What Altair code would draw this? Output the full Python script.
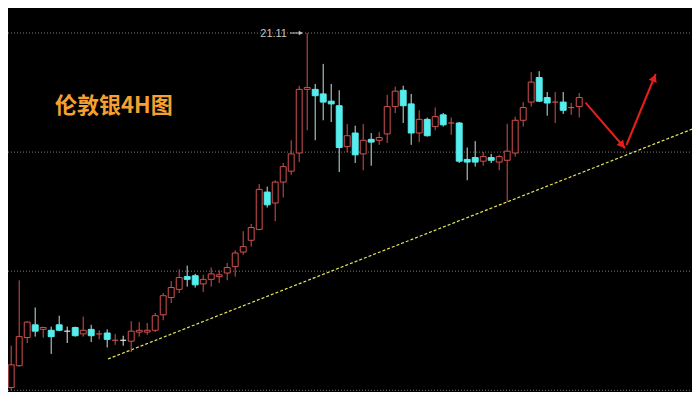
import altair as alt
import pandas as pd

# ---- candle data (London silver, 4H) ----
opens = [17.21, 17.45, 17.76, 17.90, 17.85, 17.84, 17.90, 17.83, 17.87, 17.80,
         17.85, 17.80, 17.81, 17.73, 17.73, 17.72, 17.82, 17.82, 17.84, 18.01,
         18.20, 18.29, 18.43, 18.44, 18.35, 18.40, 18.43, 18.47, 18.54, 18.70,
         18.83, 18.95, 19.36, 19.24, 19.47, 19.59, 19.79, 20.49, 20.49, 20.44,
         20.36, 20.31, 19.86, 20.01, 19.78, 19.94, 19.93, 20.00, 20.30, 20.48,
         20.33, 20.01, 20.16, 20.08, 20.21, 20.12, 20.12, 19.72, 19.74, 19.70,
         19.74, 19.69, 19.71, 19.79, 20.15, 20.35, 20.62, 20.40, 20.35, 20.35,
         20.29, 20.30]
closes = [17.46, 17.77, 17.93, 17.83, 17.87, 17.77, 17.84, 17.83, 17.78, 17.84,
          17.78, 17.80, 17.74, 17.73, 17.73, 17.83, 17.84, 17.84, 18.00, 18.22,
          18.31, 18.42, 18.40, 18.34, 18.40, 18.46, 18.45, 18.53, 18.69, 18.76,
          18.97, 19.39, 19.22, 19.47, 19.64, 19.78, 20.49, 20.51, 20.42, 20.35,
          20.33, 19.85, 19.98, 19.77, 19.93, 19.91, 19.96, 20.30, 20.47, 20.31,
          20.01, 20.16, 19.98, 20.19, 20.10, 20.12, 19.70, 19.69, 19.69, 19.75,
          19.71, 19.75, 19.81, 20.15, 20.29, 20.57, 20.36, 20.34, 20.35, 20.26,
          20.29, 20.40]
highs = [17.67, 18.39, 17.94, 18.09, 17.88, 17.88, 18.00, 17.88, 17.88, 17.99,
         17.90, 17.84, 17.85, 17.80, 17.78, 17.94, 17.93, 17.92, 18.03, 18.25,
         18.38, 18.51, 18.55, 18.46, 18.45, 18.53, 18.50, 18.58, 18.72, 18.93,
         19.01, 19.45, 19.42, 19.49, 19.68, 19.93, 20.53, 21.11, 20.55, 20.77,
         20.55, 20.48, 20.11, 20.09, 20.11, 20.01, 20.02, 20.43, 20.52, 20.53,
         20.44, 20.26, 20.18, 20.29, 20.23, 20.18, 20.13, 19.85, 19.92, 19.80,
         19.78, 19.77, 20.11, 20.19, 20.35, 20.68, 20.69, 20.46, 20.46, 20.46,
         20.34, 20.45]
lows = [17.18, 17.44, 17.70, 17.77, 17.76, 17.58, 17.83, 17.70, 17.77, 17.77,
        17.71, 17.74, 17.65, 17.68, 17.67, 17.60, 17.77, 17.79, 17.82, 17.95,
        18.14, 18.25, 18.32, 18.31, 18.26, 18.32, 18.36, 18.39, 18.43, 18.67,
        18.76, 18.94, 19.19, 19.04, 19.30, 19.55, 19.69, 20.04, 19.93, 20.15,
        20.13, 19.58, 19.80, 19.68, 19.60, 19.65, 19.88, 19.90, 20.23, 20.12,
        19.88, 19.91, 19.97, 20.04, 20.08, 19.99, 19.68, 19.49, 19.64, 19.65,
        19.68, 19.60, 19.25, 19.75, 20.08, 20.30, 20.35, 20.20, 20.12, 20.22,
        20.21, 20.18]
white_crosses = [8, 15]          # 1-based candles drawn as white crosses

grid_prices = [21.11, 19.80, 18.49, 17.18]
peak_label = "21.11"
peak_price = 21.11
title_text = "伦敦银4H图"

# support line (candle index, price)
trend_x = [12.1, 86.1]
trend_y = [17.524, 20.087]
# red forecast arrows
arrow_seg = ["a", "a", "b", "b"]
arrow_x = [71.79, 76.725, 76.91, 80.56]
arrow_y = [20.345, 19.842, 19.878, 20.659]
head_x = [76.39, 80.36]
head_y = [19.877, 20.616]
head_angle = [139, 22]

RED = "#d45050"
CYAN = "#55eeee"
CYAN_WICK = "#bfe6e6"
WHITE = "#e8e8e8"

W, H = 684, 384

n = len(opens)
kinds = []
for k in range(n):
    if closes[k] > opens[k]:
        kinds.append("up")
    elif closes[k] < opens[k]:
        kinds.append("down")
    elif (k + 1) in white_crosses:
        kinds.append("cross_w")
    else:
        kinds.append("cross_r")

df = pd.DataFrame({"i": list(range(n)), "open": opens, "close": closes,
                   "high": highs, "low": lows, "kind": kinds})
df["x0"] = df["i"] - 0.37
df["x1"] = df["i"] + 0.37

XS = alt.Scale(domain=[-0.4, -0.4 + W / 8.0], nice=False, zero=False)
YS = alt.Scale(domain=[17.161, 21.385], nice=False, zero=False)

wick_scale = alt.Scale(domain=["up", "down", "cross_w", "cross_r"],
                       range=[RED, CYAN_WICK, WHITE, RED])
fill_scale = alt.Scale(domain=["up", "down"], range=["#000000", CYAN])
stroke_scale = alt.Scale(domain=["up", "down"], range=[RED, CYAN])

grid = alt.Chart(pd.DataFrame({"p": grid_prices})).mark_rule(
    color="#7a7a7a", strokeDash=[1, 2], strokeWidth=1
).encode(y=alt.Y("p:Q", scale=YS, axis=None), x=alt.value(0), x2=alt.value(W))

trend = alt.Chart(pd.DataFrame({"x": trend_x, "y": trend_y})).mark_line(
    color="#e6e65a", strokeDash=[3, 2], strokeWidth=1.2
).encode(x=alt.X("x:Q", scale=XS, axis=None), y=alt.Y("y:Q", scale=YS, axis=None))

base = alt.Chart(df)
wicks = base.mark_rule(strokeWidth=1).encode(
    x=alt.X("i:Q", scale=XS, axis=None),
    y=alt.Y("low:Q", scale=YS, axis=None),
    y2="high:Q",
    color=alt.Color("kind:N", scale=wick_scale, legend=None),
)
bodies = base.transform_filter(
    "datum.kind == 'up' || datum.kind == 'down'"
).mark_rect(strokeWidth=1).encode(
    x=alt.X("x0:Q", scale=XS, axis=None), x2="x1:Q",
    y=alt.Y("open:Q", scale=YS, axis=None), y2="close:Q",
    fill=alt.Fill("kind:N", scale=fill_scale, legend=None),
    stroke=alt.Stroke("kind:N", scale=stroke_scale, legend=None),
)
crosses = base.transform_filter(
    "datum.kind == 'cross_w' || datum.kind == 'cross_r'"
).mark_rule(strokeWidth=1.2).encode(
    x=alt.X("x0:Q", scale=XS, axis=None), x2="x1:Q",
    y=alt.Y("open:Q", scale=YS, axis=None),
    color=alt.Color("kind:N", scale=wick_scale, legend=None),
)

peak_df = pd.DataFrame({"x": [34.475], "y": [peak_price], "t": [peak_label]})
peak_text = alt.Chart(peak_df).mark_text(
    align="right", baseline="middle", fontSize=11, font="Liberation Sans",
    color="#c4c4c4", dy=1
).encode(x=alt.X("x:Q", scale=XS, axis=None), y=alt.Y("y:Q", scale=YS, axis=None), text="t:N")
peak_line = alt.Chart(pd.DataFrame({"x": [34.85, 36.3], "y": [peak_price, peak_price]})).mark_line(
    color="#c4c4c4", strokeWidth=1
).encode(x=alt.X("x:Q", scale=XS, axis=None), y=alt.Y("y:Q", scale=YS, axis=None))
peak_head = alt.Chart(pd.DataFrame({"x": [36.2], "y": [peak_price]})).mark_point(
    shape="triangle-right", filled=True, size=22, color="#c4c4c4", opacity=1
).encode(x=alt.X("x:Q", scale=XS, axis=None), y=alt.Y("y:Q", scale=YS, axis=None))

arrows = alt.Chart(pd.DataFrame({"s": arrow_seg, "x": arrow_x, "y": arrow_y})).mark_line(
    color="#e81e1e", strokeWidth=2
).encode(x=alt.X("x:Q", scale=XS, axis=None), y=alt.Y("y:Q", scale=YS, axis=None), detail="s:N")
heads = alt.Chart(pd.DataFrame({"x": head_x, "y": head_y, "a": head_angle})).mark_point(
    shape="triangle-up", filled=True, size=75, color="#e81e1e", opacity=1
).encode(x=alt.X("x:Q", scale=XS, axis=None), y=alt.Y("y:Q", scale=YS, axis=None),
         angle=alt.Angle("a:Q", scale=None))

title = alt.Chart(pd.DataFrame({"x": [5.475], "y": [20.307], "t": [title_text]})).mark_text(
    align="left", baseline="middle", fontSize=22, fontWeight="bold",
    font="Noto Sans CJK SC", color="#f5a030"
).encode(x=alt.X("x:Q", scale=XS, axis=None), y=alt.Y("y:Q", scale=YS, axis=None), text="t:N")

chart = alt.layer(
    grid, trend, wicks, bodies, crosses, peak_text, peak_line, peak_head, arrows, heads, title
).properties(
    width=W, height=H, background="#000000", padding=0, autosize="none"
).configure_view(strokeWidth=0)

chart.save("out.html", embed_options={"renderer": "svg", "actions": False})
